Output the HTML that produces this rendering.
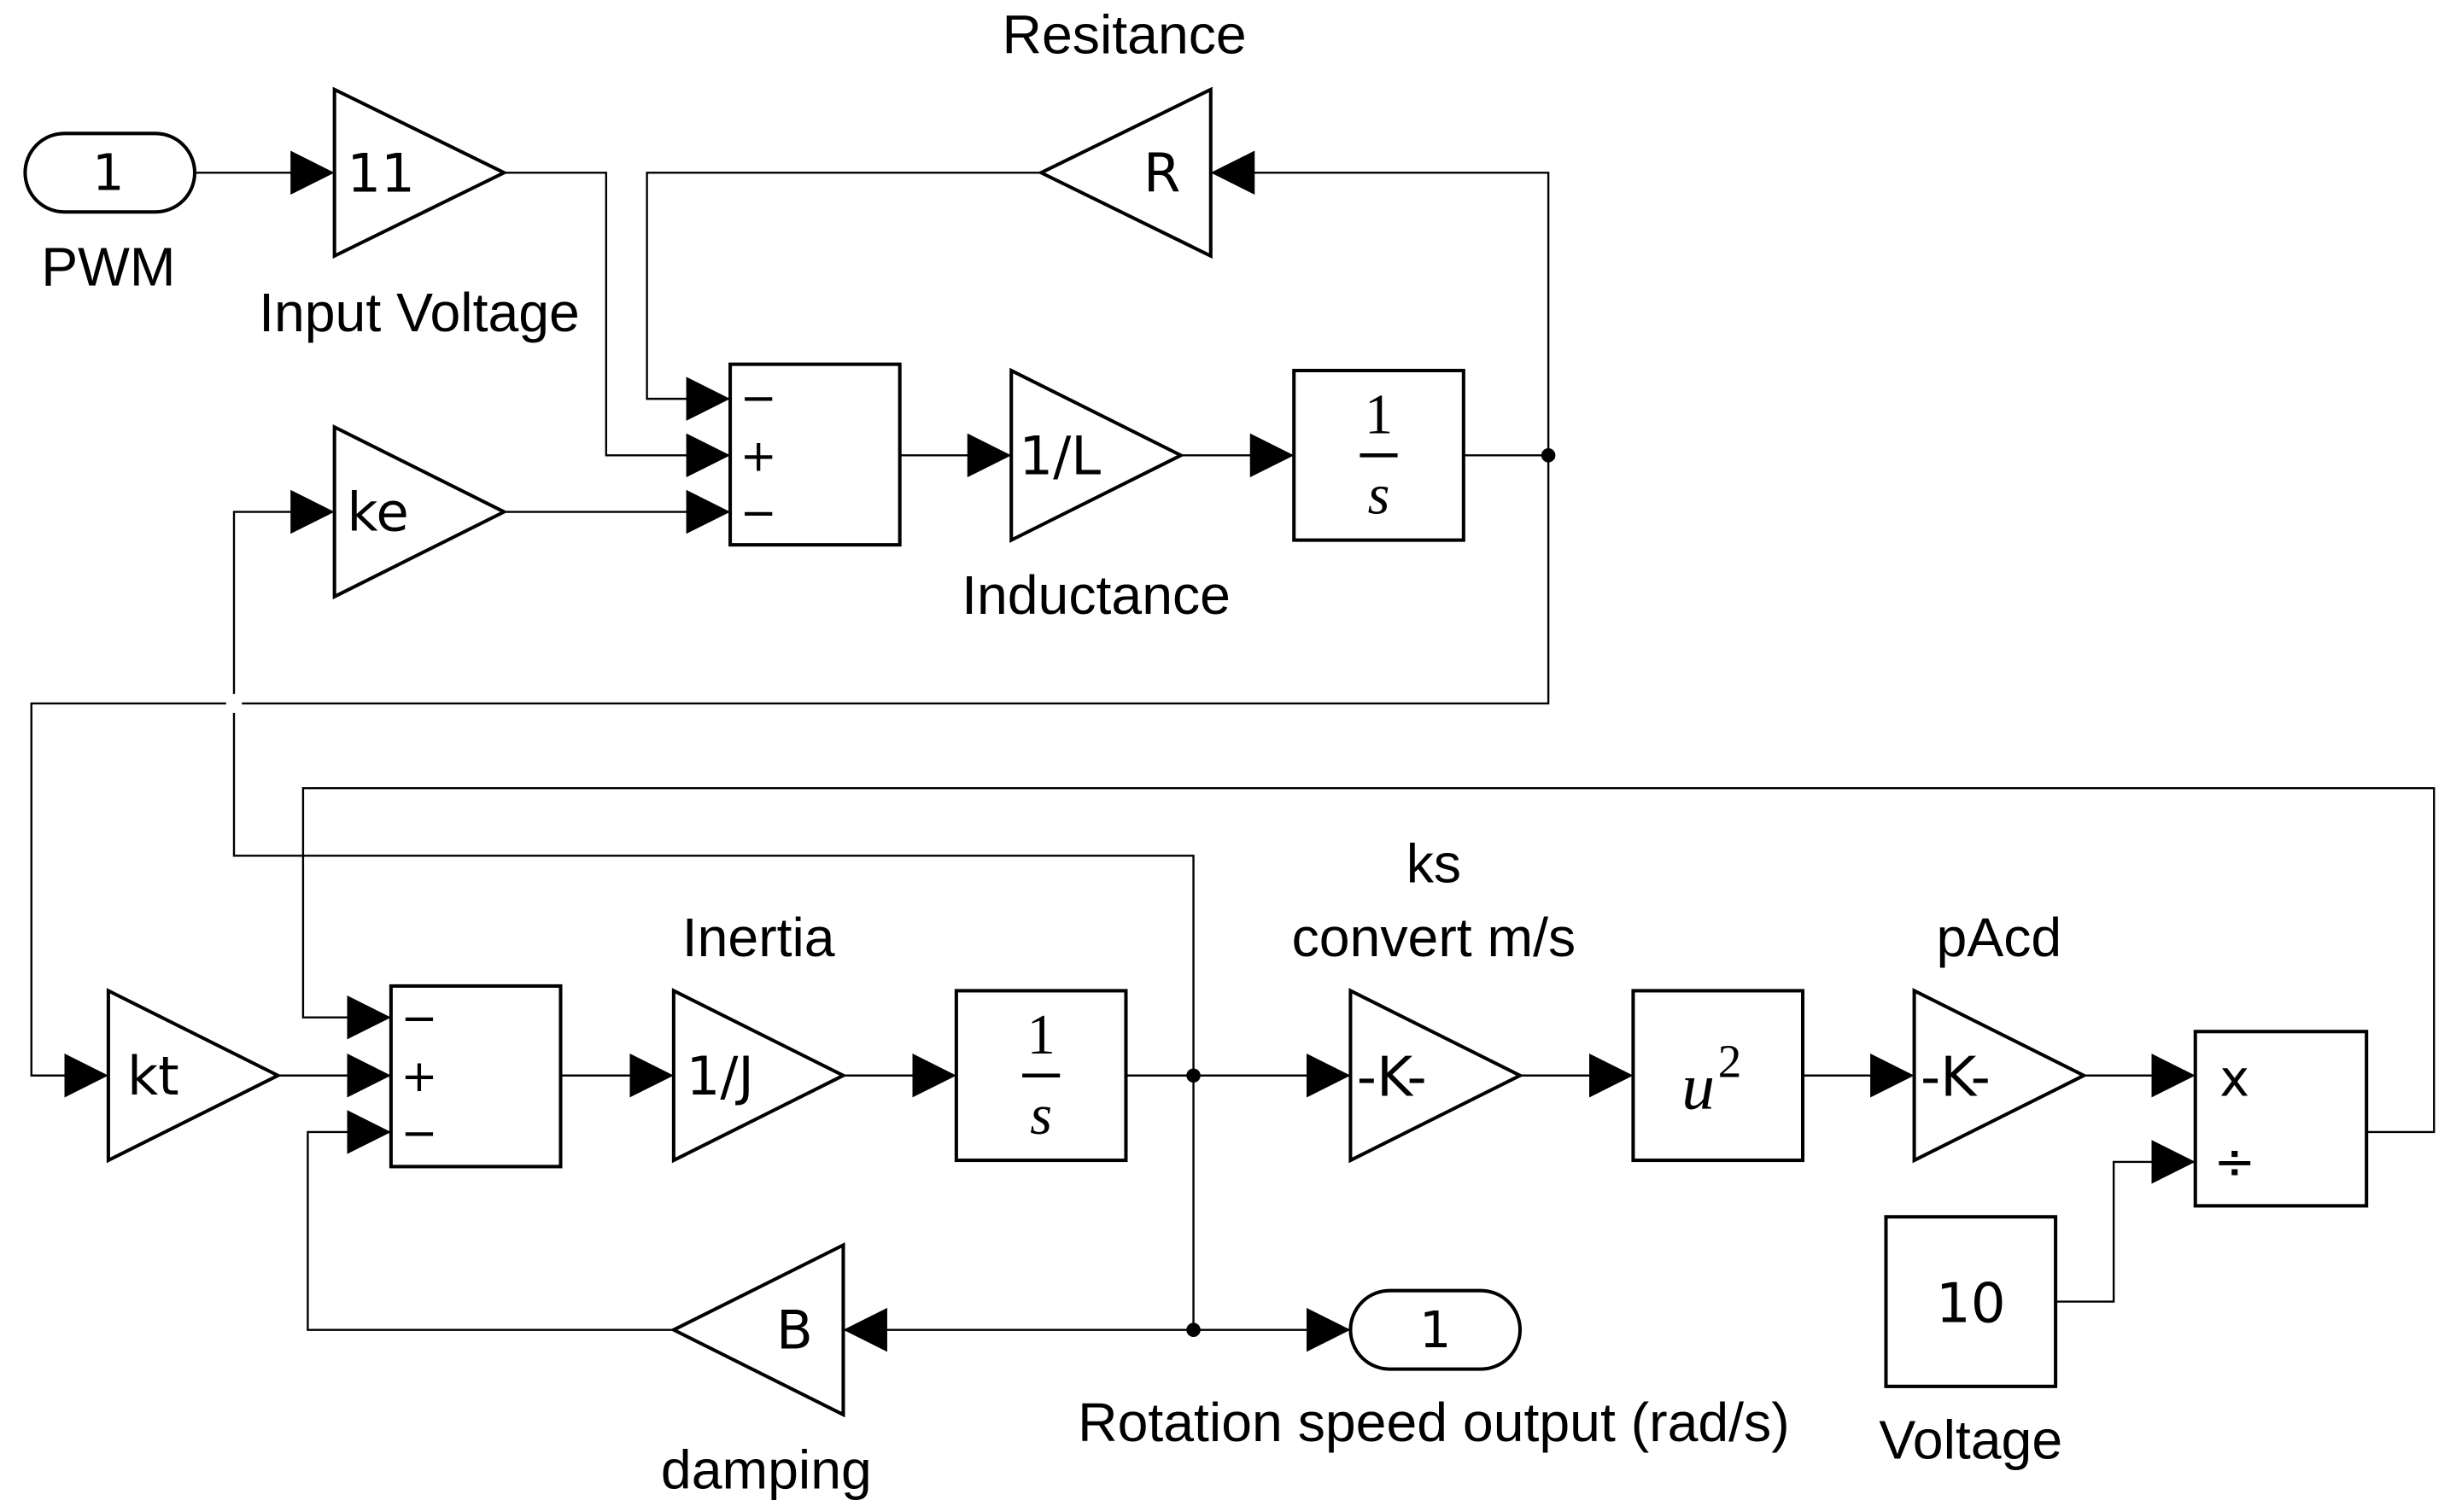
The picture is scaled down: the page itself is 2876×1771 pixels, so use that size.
<!DOCTYPE html>
<html><head><meta charset="utf-8"><style>
html,body{margin:0;padding:0;background:#fff;}
svg{display:block;}
text{font-family:"Liberation Sans",sans-serif;fill:#000;}
.d{font-family:"DejaVu Sans",sans-serif;}
.b{fill:#fff;stroke:#000;stroke-width:2.2;}
.l{fill:none;stroke:#000;stroke-width:1.3;}
</style></head><body>
<svg width="2876" height="1771" viewBox="0 0 1564 963" preserveAspectRatio="none" xmlns="http://www.w3.org/2000/svg">
<defs>
<marker id="a" viewBox="0 0 28 28" refX="28" refY="14" markerWidth="28" markerHeight="28" markerUnits="userSpaceOnUse" orient="auto">
<path d="M0,0 L28,14 L0,28 Z" fill="#000"/></marker>
</defs>
<path class="l" d="M124,110 H213" marker-end="url(#a)"/>
<path class="l" d="M321,110 H386 V290 H465" marker-end="url(#a)"/>
<path class="l" d="M663,110 H412 V254 H465" marker-end="url(#a)"/>
<path class="l" d="M321,326 H465" marker-end="url(#a)"/>
<path class="l" d="M760,685 V545 H149 V326 H213" marker-end="url(#a)"/>
<path class="l" d="M573,290 H644" marker-end="url(#a)"/>
<path class="l" d="M752,290 H824" marker-end="url(#a)"/>
<path class="l" d="M932,290 H986 V110 H771" marker-end="url(#a)"/>
<path class="l" d="M986,290 V448 H20 V685 H69" marker-end="url(#a)"/>
<path class="l" d="M177,685 H249" marker-end="url(#a)"/>
<path class="l" d="M357,685 H429" marker-end="url(#a)"/>
<path class="l" d="M537,685 H609" marker-end="url(#a)"/>
<path class="l" d="M717,685 H860" marker-end="url(#a)"/>
<path class="l" d="M760,685 V847 H860" marker-end="url(#a)"/>
<path class="l" d="M760,847 H537" marker-end="url(#a)"/>
<path class="l" d="M429,847 H196 V721 H249" marker-end="url(#a)"/>
<path class="l" d="M968,685 H1040" marker-end="url(#a)"/>
<path class="l" d="M1148,685 H1219" marker-end="url(#a)"/>
<path class="l" d="M1327,685 H1398" marker-end="url(#a)"/>
<path class="l" d="M1309,829 H1346 V740 H1398" marker-end="url(#a)"/>
<path class="l" d="M1507,721 H1550 V502 H193 V648 H249" marker-end="url(#a)"/>
<rect x="144" y="442" width="10" height="12" fill="#fff"/>
<circle cx="986" cy="290" r="4.5"/>
<circle cx="760" cy="685" r="4.5"/>
<circle cx="760" cy="847" r="4.5"/>

<rect class="b" x="16" y="85" width="108" height="50" rx="25"/>
<text class="d" x="69" y="121" font-size="32" text-anchor="middle">1</text>
<text x="69" y="182" font-size="35" text-anchor="middle">PWM</text>

<polygon class="b" points="213,57 213,163 321,110"/>
<text class="d" x="221" y="122" font-size="34">11</text>
<text x="267" y="211" font-size="35" text-anchor="middle">Input Voltage</text>

<polygon class="b" points="771,57 771,163 663,110"/>
<text class="d" x="740" y="122" font-size="34" text-anchor="middle">R</text>
<text x="716" y="34" font-size="35" text-anchor="middle">Resitance</text>

<rect class="b" x="465" y="232" width="108" height="115"/>
<text class="d" x="483" y="263" font-size="28" text-anchor="middle">−</text>
<text class="d" x="483" y="300" font-size="28" text-anchor="middle">+</text>
<text class="d" x="483" y="336" font-size="28" text-anchor="middle">−</text>

<polygon class="b" points="213,272 213,380 321,326"/>
<text class="d" x="221" y="338" font-size="34">ke</text>

<polygon class="b" points="644,236 644,344 752,290"/>
<text class="d" x="649" y="302" font-size="34">1/L</text>
<text x="698" y="391" font-size="35" text-anchor="middle">Inductance</text>

<rect class="b" x="824" y="236" width="108" height="108"/>
<text x="878" y="276" font-size="36" text-anchor="middle" style="font-family:'Liberation Serif',serif">1</text>
<line x1="866" y1="290" x2="890" y2="290" stroke="#000" stroke-width="2.5"/>
<text x="878" y="327" font-size="36" font-style="italic" text-anchor="middle" style="font-family:'Liberation Serif',serif">s</text>

<polygon class="b" points="69,631 69,739 177,685"/>
<text class="d" x="81" y="697" font-size="34">kt</text>

<rect class="b" x="249" y="628" width="108" height="115"/>
<text class="d" x="267" y="658" font-size="28" text-anchor="middle">−</text>
<text class="d" x="267" y="695" font-size="28" text-anchor="middle">+</text>
<text class="d" x="267" y="731" font-size="28" text-anchor="middle">−</text>

<polygon class="b" points="429,631 429,739 537,685"/>
<text class="d" x="437" y="697" font-size="34">1/J</text>
<text x="483" y="609" font-size="35" text-anchor="middle">Inertia</text>

<rect class="b" x="609" y="631" width="108" height="108"/>
<text x="663" y="671" font-size="36" text-anchor="middle" style="font-family:'Liberation Serif',serif">1</text>
<line x1="651" y1="685" x2="675" y2="685" stroke="#000" stroke-width="2.5"/>
<text x="663" y="722" font-size="36" font-style="italic" text-anchor="middle" style="font-family:'Liberation Serif',serif">s</text>

<polygon class="b" points="537,793 537,901 429,847"/>
<text class="d" x="506" y="859" font-size="34" text-anchor="middle">B</text>
<text x="488" y="948" font-size="35" text-anchor="middle">damping</text>

<rect class="b" x="860" y="822" width="108" height="50" rx="25"/>
<text class="d" x="914" y="858" font-size="32" text-anchor="middle">1</text>
<text x="913" y="918" font-size="35" text-anchor="middle">Rotation speed output (rad/s)</text>

<polygon class="b" points="860,631 860,739 968,685"/>
<text class="d" x="864" y="698" font-size="35">-K-</text>
<text x="913" y="562" font-size="35" text-anchor="middle">ks</text>
<text x="913" y="609" font-size="35" text-anchor="middle">convert m/s</text>

<rect class="b" x="1040" y="631" width="108" height="108"/>
<text x="1071" y="706" font-size="42" font-style="italic" style="font-family:'Liberation Serif',serif">u</text>
<text x="1094" y="686" font-size="30" style="font-family:'Liberation Serif',serif">2</text>

<polygon class="b" points="1219,631 1219,739 1327,685"/>
<text class="d" x="1223" y="698" font-size="35">-K-</text>
<text x="1273" y="609" font-size="35" text-anchor="middle">pAcd</text>

<rect class="b" x="1398" y="657" width="109" height="111"/>
<text class="d" x="1423" y="698" font-size="32" text-anchor="middle">x</text>
<text class="d" x="1423" y="751" font-size="32" text-anchor="middle">÷</text>

<rect class="b" x="1201" y="775" width="108" height="108"/>
<text class="d" x="1255" y="842" font-size="35" text-anchor="middle">10</text>
<text x="1255" y="929" font-size="35" text-anchor="middle">Voltage</text>
</svg>
</body></html>
